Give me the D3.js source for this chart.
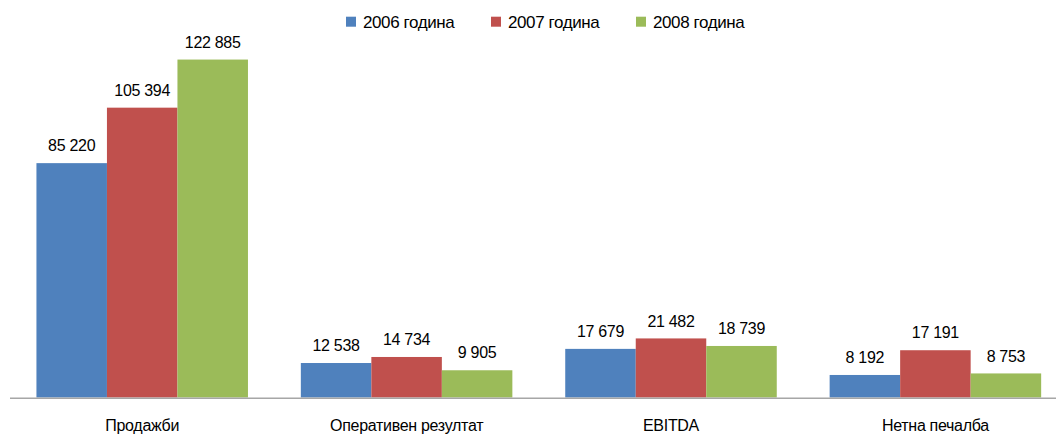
<!DOCTYPE html>
<html><head><meta charset="utf-8">
<script src="https://cdn.jsdelivr.net/npm/d3@7"></script>
<style>
html,body{margin:0;padding:0;background:#fff;}
svg{display:block;}
text{font-family:"Liberation Sans",Arial,sans-serif;fill:#000;}
</style></head>
<body>
<svg id="chart" width="1056" height="438"></svg>
<script>
const categories = ["Продажби", "Оперативен резултат", "EBITDA", "Нетна печалба"];
const seriesNames = ["2006 година", "2007 година", "2008 година"];
const values2006 = [85220, 12538, 17679, 8192];
const values2007 = [105394, 14734, 21482, 17191];
const values2008 = [122885, 9905, 18739, 8753];
const seriesValues = [values2006, values2007, values2008];
const colors = ["#4F81BD", "#C0504D", "#9BBB59"];

const svg = d3.select("#chart");
const x0 = d3.scaleBand().domain(categories).range([10, 1067.6]).paddingInner(0.2).paddingOuter(0.1);
const x1 = d3.scaleBand().domain(d3.range(seriesNames.length)).range([0, x0.bandwidth()]).padding(0);
const y = d3.scaleLinear().domain([0, 140000]).range([397.5, 12.5]);

const fmt = v => d3.format(",")(v).replace(/,/g, " ");

const g = svg.append("g");
seriesValues.forEach((vals, si) => {
  g.selectAll(".bar" + si).data(vals).join("rect")
    .attr("x", (d, i) => x0(categories[i]) + x1(si))
    .attr("y", d => y(d))
    .attr("width", x1.bandwidth())
    .attr("height", d => y(0) - y(d))
    .attr("fill", colors[si]);
  g.selectAll(".lab" + si).data(vals).join("text")
    .attr("x", (d, i) => x0(categories[i]) + x1(si) + x1.bandwidth() / 2)
    .attr("y", d => y(d) - 11.8)
    .attr("text-anchor", "middle")
    .attr("font-size", "16px")
    .attr("letter-spacing", "-0.3px")
    .text(d => fmt(d));
});

// axis
const axis = d3.axisBottom(x0).tickSize(0).tickPadding(0);
const ax = svg.append("g").attr("transform", "translate(0,398.3)").call(axis);
ax.select(".domain").attr("d", "M10,0H1056").attr("stroke", "#A6A6A6").attr("stroke-width", 1.5);
ax.selectAll(".tick text")
  .attr("y", 33).attr("dy", null)
  .attr("font-size", "16px").attr("letter-spacing", "-0.3px")
  .attr("font-family", "Liberation Sans, Arial, sans-serif")
  .attr("fill", "#000");

// legend
const legX = [346, 491, 636];
const leg = svg.append("g");
seriesNames.forEach((n, i) => {
  leg.append("rect").attr("x", legX[i]).attr("y", 16.7).attr("width", 10).attr("height", 10).attr("fill", colors[i]);
  leg.append("text").attr("x", legX[i] + 17).attr("y", 28.3)
    .attr("font-size", "17px").attr("letter-spacing", "-0.4px").text(n);
});
</script>
</body></html>
